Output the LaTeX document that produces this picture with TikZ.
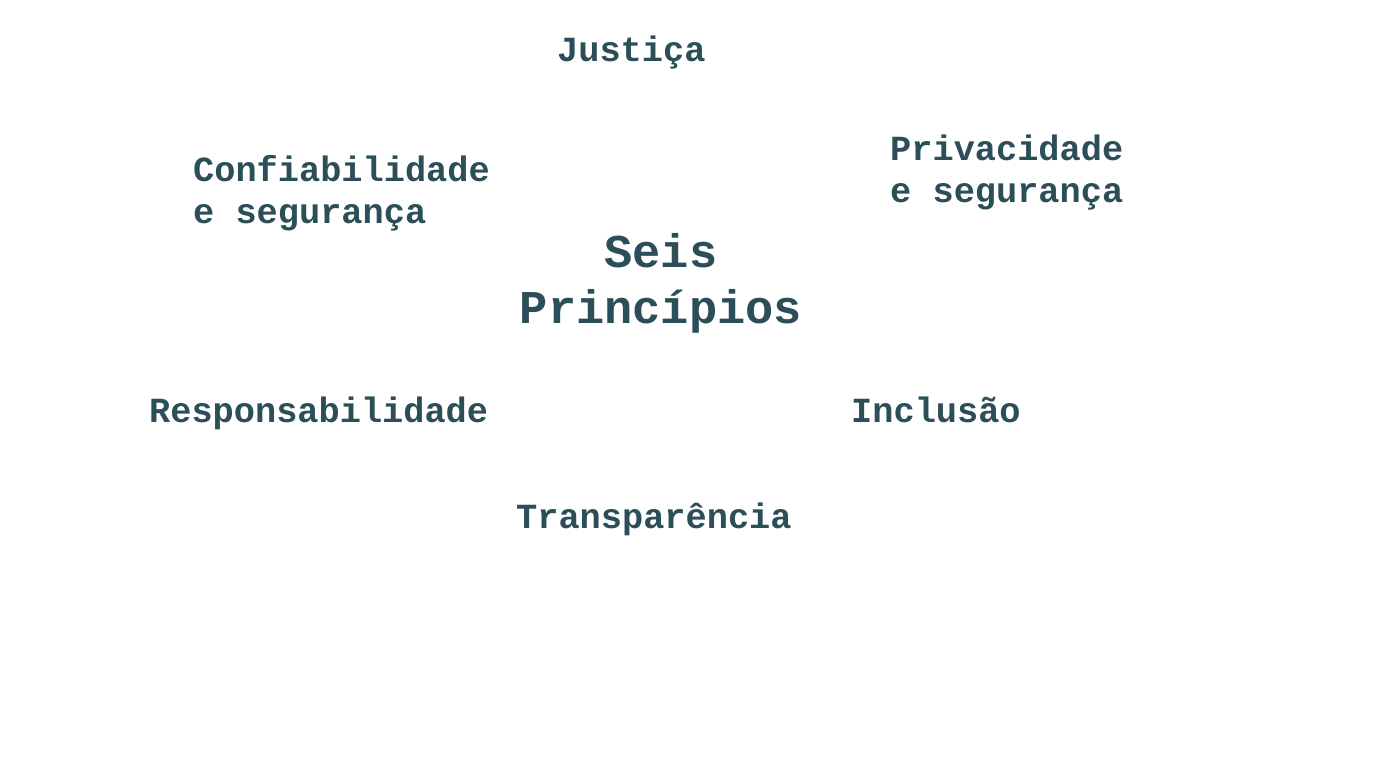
\documentclass[tikz,border=0pt]{standalone}
\usepackage{fontspec}
\setmonofont{Liberation Mono}
\definecolor{ink}{HTML}{2B4E58}
\tikzset{
  lbl/.style={font=\ttfamily\bfseries\fontsize{35.3}{41.5}\selectfont, text=ink, inner sep=0pt, align=left},
  ttl/.style={font=\ttfamily\bfseries\fontsize{47}{56}\selectfont, text=ink, inner sep=0pt, align=center}
}
\begin{document}
\begin{tikzpicture}[x=1pt,y=-1pt]
\useasboundingbox[fill=white] (0,0) rectangle (1392,768);
\node[lbl, anchor=base west] (jus) at (557,62) {Justiça};
\node[lbl, anchor=base west] (conf) at (193,223) {Confiabilidade\\e segurança};
\node[lbl, anchor=base west] (priv) at (890,202) {Privacidade\\e segurança};
\node[ttl, anchor=base] (seis) at (661,323) {Seis\\Princípios};
\node[lbl, anchor=base west] (resp) at (149,422) {Responsabilidade};
\node[lbl, anchor=base west] (incl) at (851,422) {Inclusão};
\node[lbl, anchor=base west] (trans) at (516,528) {Transparência};
\end{tikzpicture}
\end{document}
